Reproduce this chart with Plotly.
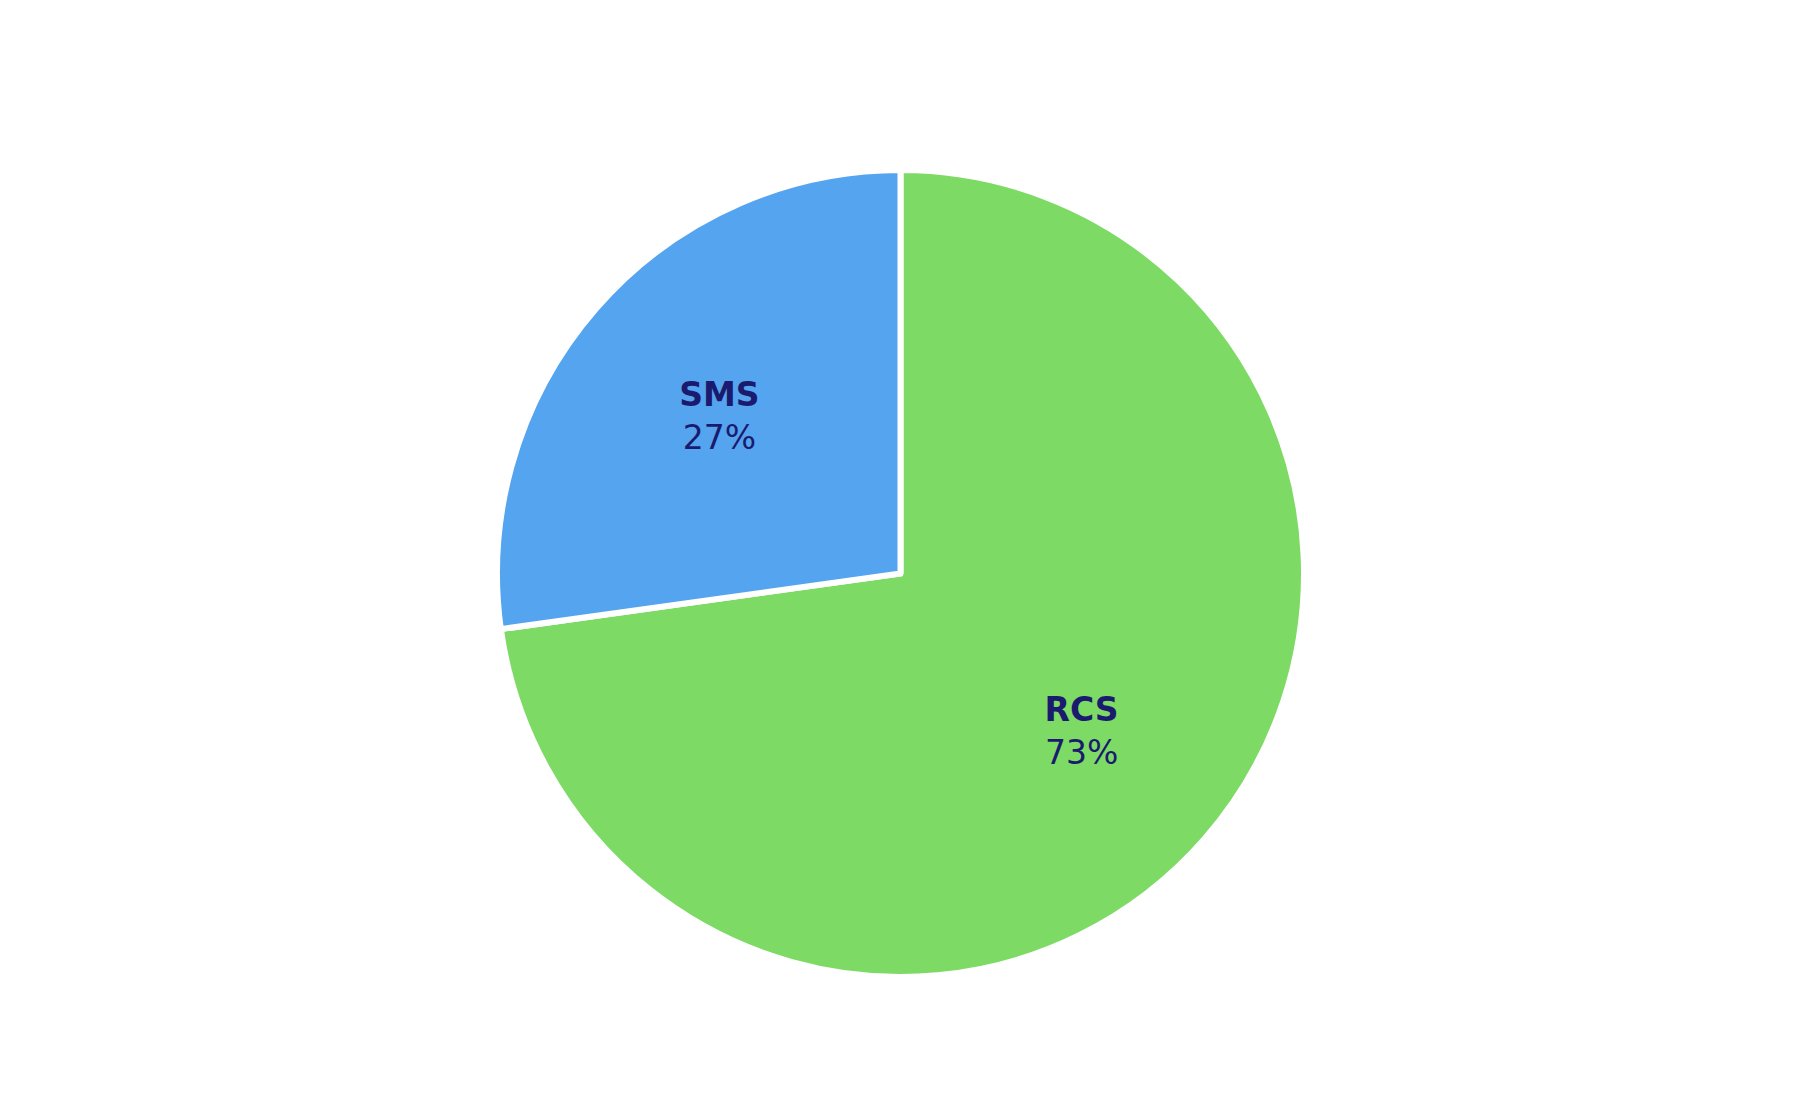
import plotly.graph_objects as go

# message channel share (%)
channels = ["RCS", "SMS"]
shares = [72.8, 27.2]
slice_colors = ["#7ddb65", "#55a4f0"]

fig = go.Figure()

# the filled pie, no text on it
fig.add_trace(go.Pie(labels=channels,
                     values=shares,
                     sort=False,
                     direction="clockwise",
                     rotation=0,
                     marker=dict(colors=slice_colors,
                                 line=dict(color="white", width=6)),
                     textinfo="none",
                     hoverinfo="label+percent",
                     showlegend=False))

# see-through ring on top only to hold the labels a bit further out (~0.6 r)
fig.add_trace(go.Pie(labels=channels,
                     values=shares,
                     sort=False,
                     direction="clockwise",
                     rotation=0,
                     hole=0.19,
                     marker=dict(colors=["rgba(0,0,0,0)", "rgba(0,0,0,0)"],
                                 line=dict(width=0)),
                     texttemplate="<b>%{label}</b><br>%{percent:.0%}",
                     textposition="inside",
                     insidetextorientation="horizontal",
                     textfont=dict(family="DejaVu Sans", size=33, color="#1a1a6e"),
                     hoverinfo="skip",
                     showlegend=False))

fig.update_layout(width=1800, height=1120,
                  margin=dict(t=162, b=151, l=0, r=15),
                  paper_bgcolor="white",
                  plot_bgcolor="white",
                  showlegend=False)

fig.write_html("out.html")
